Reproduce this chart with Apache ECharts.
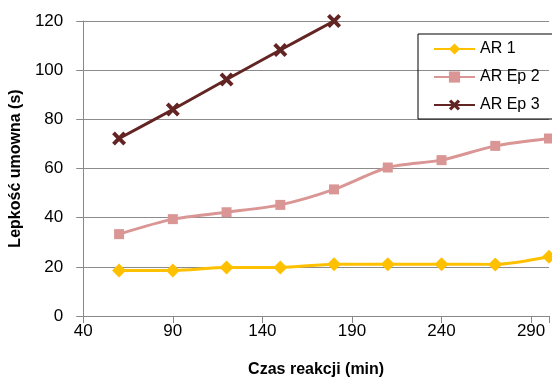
<!DOCTYPE html>
<html><head><meta charset="utf-8">
<script src="https://cdn.jsdelivr.net/npm/echarts@6/dist/echarts.min.js"></script>
<style>html,body{margin:0;padding:0;background:#fff}#c{width:552px;height:383px}</style>
</head><body><div id="c"></div>
<script>
const times = [60, 90, 120, 150, 180, 210, 240, 270, 300];
const ar1 = [18.5, 18.5, 19.7, 19.7, 21.1, 21.1, 21.1, 21.0, 24.1];
const arEp2 = [33.3, 39.4, 42.2, 45.2, 51.5, 60.4, 63.4, 69.2, 72.2];
const arEp3 = [72.2, 84.0, 96.2, 108.2, 120.0];
const seriesNames = ['AR 1', 'AR Ep 2', 'AR Ep 3'];
const xTitle = 'Czas reakcji (min)';
const yTitle = 'Lepkość umowna (s)';

const pair = (xs, ys) => ys.map((v, i) => [xs[i], v]);
const FONT = 'Liberation Sans';
const xPath = 'path://M0,2 L2,0 L5,3 L8,0 L10,2 L7,5 L10,8 L8,10 L5,7 L2,10 L0,8 L3,5 Z';

const chart = echarts.init(document.getElementById('c'), null, {renderer: 'canvas'});
chart.setOption({
  animation: false,
  textStyle: {fontFamily: FONT},
  grid: {left: 76, top: 21, right: 0, bottom: 65, containLabel: false},
  legend: {
    orient: 'vertical', left: 418, top: 34,
    padding: [7, 22, 6, 15], itemGap: 12, itemWidth: 41, itemHeight: 14,
    borderColor: '#000', borderWidth: 1, borderRadius: 0,
    textStyle: {fontFamily: FONT, fontSize: 16, color: '#000'},
    data: seriesNames
  },
  xAxis: {
    type: 'value', min: 40, max: 300, interval: 50,
    name: xTitle, nameLocation: 'middle', nameGap: 46,
    nameTextStyle: {fontFamily: FONT, fontSize: 16, fontWeight: 'bold', color: '#000'},
    axisLine: {show: true, lineStyle: {color: '#888', width: 1}},
    axisTick: {show: true, length: 7, lineStyle: {color: '#888'}},
    axisLabel: {fontFamily: FONT, fontSize: 17, color: '#000', margin: 7,
      formatter: v => (v > 295 ? '' : v)},
    splitLine: {show: false}
  },
  yAxis: {
    type: 'value', min: 0, max: 120, interval: 20,
    name: yTitle, nameLocation: 'middle', nameGap: 56,
    nameTextStyle: {fontFamily: FONT, fontSize: 16, fontWeight: 'bold', color: '#000'},
    axisLine: {show: true, lineStyle: {color: '#888', width: 1}},
    axisTick: {show: true, length: 7, lineStyle: {color: '#888'}},
    axisLabel: {fontFamily: FONT, fontSize: 17, color: '#000', margin: 20},
    splitLine: {show: true, lineStyle: {color: '#8c8c8c', width: 1}}
  },
  series: [
    {name: seriesNames[0], type: 'line', data: pair(times, ar1), smooth: 0.25, clip: false,
     symbol: 'diamond', symbolSize: 14, lineStyle: {color: '#FFC000', width: 3},
     itemStyle: {color: '#FFC000'}},
    {name: seriesNames[1], type: 'line', data: pair(times, arEp2), smooth: 0.25, clip: false,
     symbol: 'rect', symbolSize: 10, lineStyle: {color: '#D99694', width: 3},
     itemStyle: {color: '#D99694'}},
    {name: seriesNames[2], type: 'line', data: pair(times, arEp3), smooth: 0.25, clip: false,
     symbol: xPath, symbolSize: 14, lineStyle: {color: '#632523', width: 3},
     itemStyle: {color: '#632523'}}
  ]
});
</script></body></html>
